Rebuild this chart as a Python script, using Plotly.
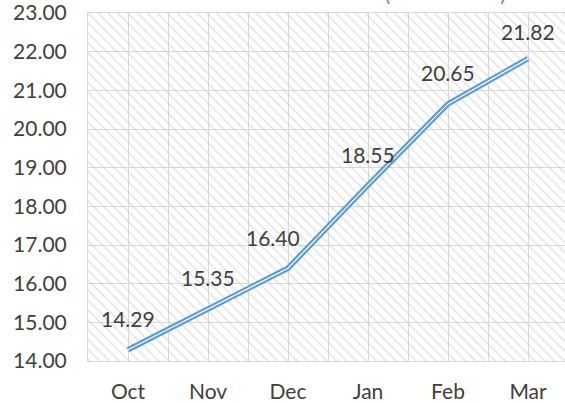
import plotly.graph_objects as go

months = ["Oct", "Nov", "Dec", "Jan", "Feb", "Mar"]
values = [14.29, 15.35, 16.40, 18.55, 20.65, 21.82]
y_min, y_max, y_step = 14, 23, 1

FONT = "Lato"
TXT = "#404040"
GRID = "#d9d9d9"
BLUE = "#5B9BD5"
FS = 21

xs = list(range(len(months)))

fig = go.Figure()

# hatched plot-area background (covers the full axis range)
fig.add_trace(go.Bar(
    x=xs, y=[y_max - y_min] * len(xs), base=y_min, width=1,
    marker=dict(color="rgba(255,255,255,0)", line=dict(width=0),
                pattern=dict(shape="\\", fgcolor="#c8c8c8", bgcolor="rgba(0,0,0,0)",
                             size=7, solidity=0.22)),
    hoverinfo="skip", showlegend=False,
))

# double line: blue outer, white core
fig.add_trace(go.Scatter(x=xs, y=values, mode="lines",
                         line=dict(color=BLUE, width=5.5), showlegend=False))
fig.add_trace(go.Scatter(x=xs, y=values, mode="lines",
                         line=dict(color="white", width=1.2), showlegend=False))

label_xshift = {2: -15}
label_yshift = {5: 27}
for i, v in enumerate(values):
    fig.add_annotation(x=xs[i], y=v, text=f"{v:.2f}", showarrow=False,
                       xshift=label_xshift.get(i, 0), yshift=label_yshift.get(i, 31),
                       font=dict(family=FONT, size=FS, color=TXT))

# partially visible title (cropped at the top)
for ch, px in (("(", 387), (")", 503)):
    fig.add_annotation(x=(px - 88) / 477, y=1, xref="paper", yref="paper", text=ch,
                       showarrow=False, xanchor="center", yanchor="bottom", yshift=5,
                       font=dict(family=FONT, size=24, color=BLUE))

fig.update_layout(
    width=565, height=403,
    margin=dict(l=88, r=0, t=13, b=42),
    paper_bgcolor="white", plot_bgcolor="white",
    bargap=0,
    xaxis=dict(range=[-0.5, -0.5 + 477 / 80], tickmode="array", tickvals=xs, ticktext=months,
               automargin=False, ticklabeloverflow="allow",
               showgrid=True, gridcolor=GRID, gridwidth=1, zeroline=False,
               minor=dict(tickmode="linear", tick0=-0.5, dtick=1, showgrid=True,
                          gridcolor=GRID, gridwidth=1),
               showline=True, linecolor=GRID, mirror=True,
               ticks="", ticklabelstandoff=12,
               tickfont=dict(family=FONT, size=FS, color=TXT)),
    yaxis=dict(range=[y_min, y_max], tickmode="linear", dtick=y_step, tick0=y_min,
               tickformat=".2f", automargin=False, ticklabeloverflow="allow",
               showgrid=True, gridcolor=GRID, gridwidth=1, zeroline=False,
               showline=True, linecolor=GRID, mirror=True,
               ticks="", ticklabelstandoff=16,
               tickfont=dict(family=FONT, size=FS, color=TXT)),
)

fig.write_html("out.html", config={"displayModeBar": False},
               post_script="document.body.style.margin='0';document.body.style.overflow='hidden';")
